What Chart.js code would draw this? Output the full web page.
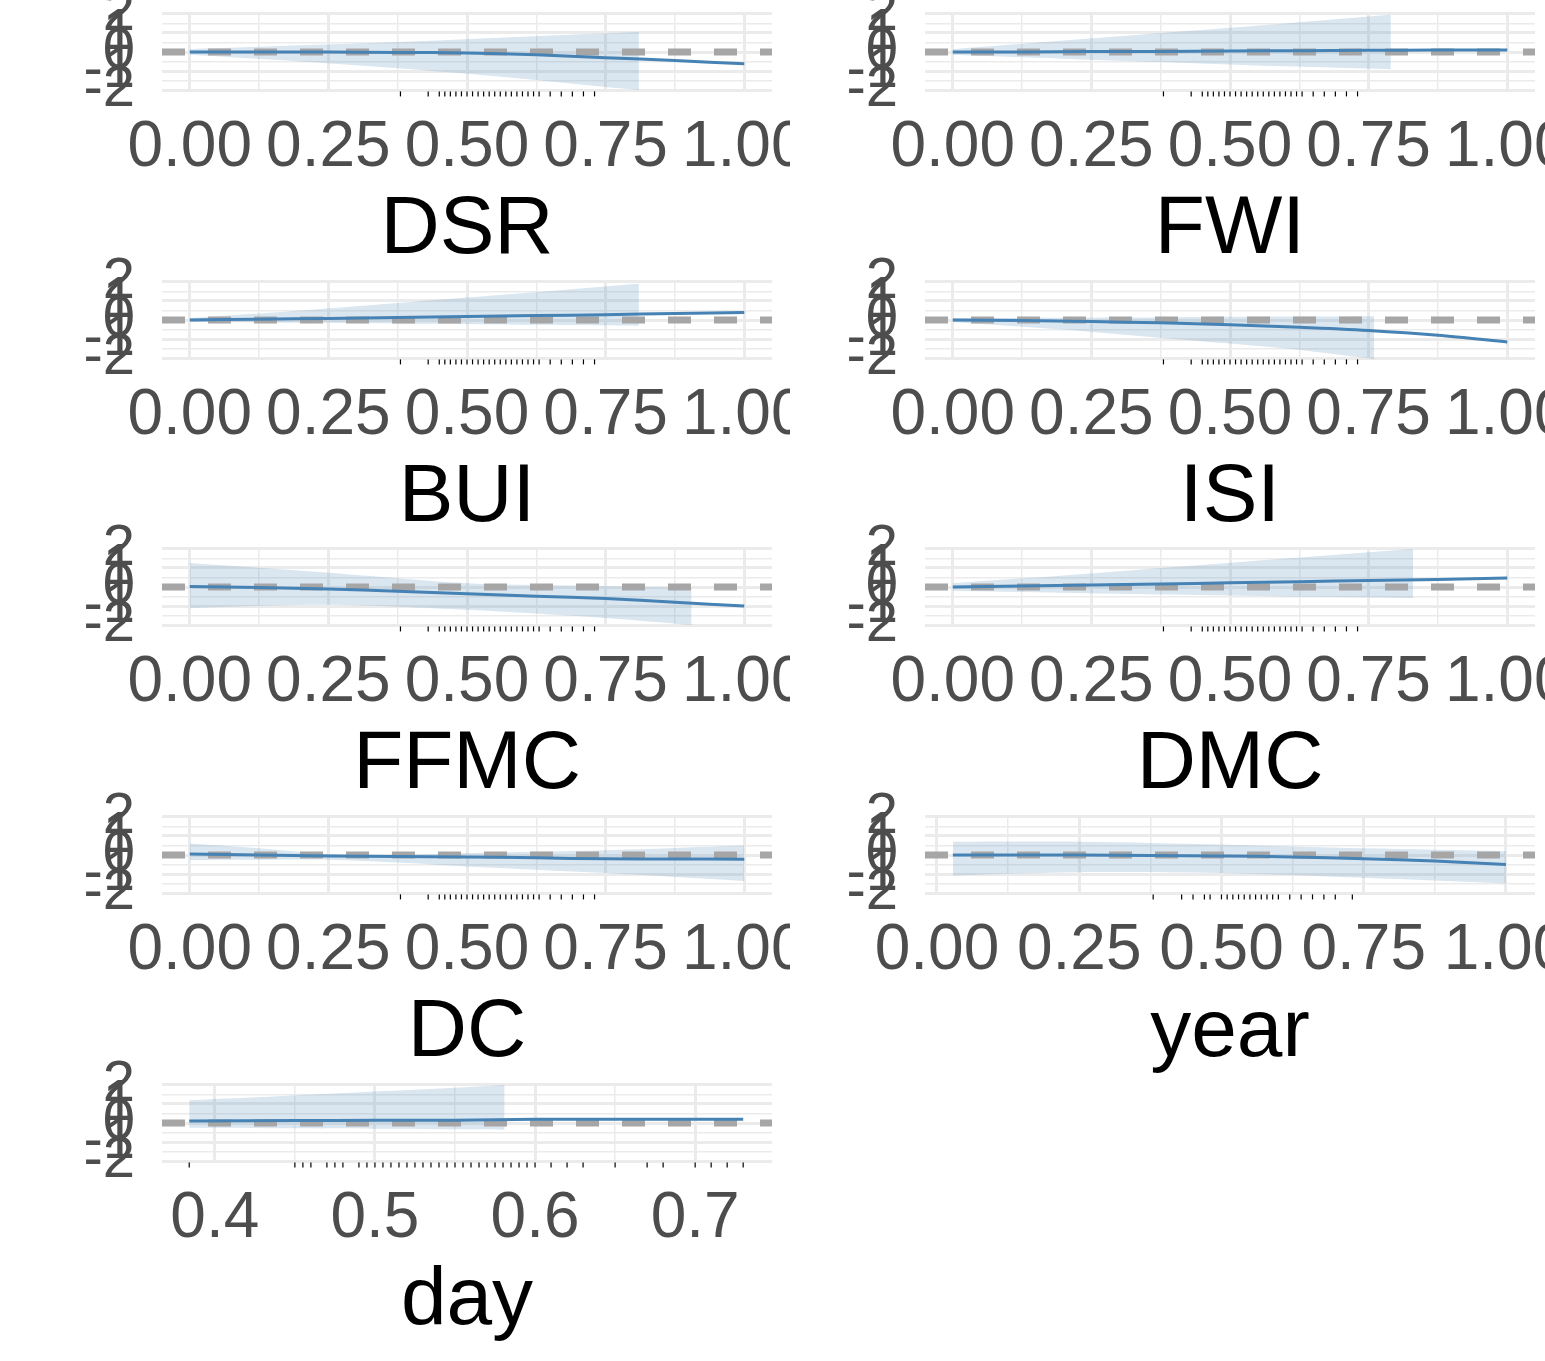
<!DOCTYPE html>
<html>
<head>
<meta charset="utf-8">
<script src="https://cdn.jsdelivr.net/npm/chart.js@4"></script>
<style>
  html, body { margin: 0; padding: 0; background: #fff; }
  body { width: 1545px; height: 1361px; overflow: hidden; position: relative; }
  .panel { position: absolute; width: 790px; height: 220px; }
  .title { position: absolute; width: 600px; text-align: center; font-family: "Liberation Sans", Arial, sans-serif;
           font-size: 82px; color: #000; line-height: 1; }
</style>
</head>
<body>
<script>
// shared x grid for the 0..1 panels
const fitX = [0, 0.125, 0.25, 0.375, 0.5, 0.625, 0.75, 0.875, 1];
const rugX = [0.38, 0.43, 0.45, 0.46, 0.47, 0.48, 0.49, 0.5, 0.51, 0.52, 0.53, 0.54, 0.55, 0.56, 0.57, 0.58, 0.59, 0.6, 0.61, 0.62, 0.63, 0.65, 0.67, 0.69, 0.71, 0.73];

const dsrFit = [0, 0, 0, -0.02, -0.05, -0.15, -0.3, -0.45, -0.62];
const dsrBandX = [0, 0.2, 0.4, 0.6, 0.81];
const dsrUpper = [0.15, 0.35, 0.55, 0.8, 1.05];
const dsrLower = [-0.15, -0.5, -0.9, -1.4, -2.0];

const fwiFit = [0, 0, 0.02, 0.03, 0.05, 0.07, 0.09, 0.1, 0.1];
const fwiBandX = [0, 0.2, 0.4, 0.6, 0.79];
const fwiUpper = [0.15, 0.6, 1.05, 1.5, 1.95];
const fwiLower = [-0.15, -0.35, -0.55, -0.75, -0.9];

const buiFit = [0, 0.04, 0.08, 0.13, 0.18, 0.23, 0.28, 0.34, 0.4];
const buiBandX = [0, 0.2, 0.4, 0.6, 0.81];
const buiUpper = [0.1, 0.5, 0.95, 1.4, 1.9];
const buiLower = [-0.1, -0.15, -0.2, -0.25, -0.3];

const isiFit = [0, -0.03, -0.08, -0.15, -0.25, -0.38, -0.55, -0.8, -1.15];
const isiBandX = [0, 0.2, 0.4, 0.6, 0.76];
const isiUpper = [0.1, 0.12, 0.15, 0.18, 0.2];
const isiLower = [-0.1, -0.5, -1.0, -1.5, -2.05];

const ffmcFit = [0.03, -0.03, -0.1, -0.22, -0.35, -0.48, -0.61, -0.8, -1.0];
const ffmcBandX = [0, 0.25, 0.5, 0.75, 0.905];
const ffmcUpper = [1.26, 0.75, 0.2, 0.05, -0.05];
const ffmcLower = [-1.1, -0.93, -1.2, -1.63, -2.0];

const dmcFit = [0, 0.05, 0.1, 0.16, 0.22, 0.28, 0.34, 0.4, 0.47];
const dmcBandX = [0, 0.2, 0.4, 0.6, 0.83];
const dmcUpper = [0.2, 0.6, 1.05, 1.5, 2.0];
const dmcLower = [-0.2, -0.3, -0.4, -0.5, -0.58];

const dcFit = [0.05, 0.0, -0.05, -0.08, -0.1, -0.15, -0.2, -0.21, -0.22];
const dcBandX = [0, 0.125, 0.25, 0.375, 0.5, 0.75, 1];
const dcUpper = [0.6, 0.35, 0.05, 0.0, 0.1, 0.25, 0.5];
const dcLower = [-0.26, -0.25, -0.25, -0.4, -0.6, -0.95, -1.37];

const yearFitX = [0.028, 0.25, 0.5, 0.625, 0.75, 0.875, 1];
const yearFit = [0, 0, -0.05, -0.1, -0.2, -0.32, -0.5];
const yearBandX = [0.028, 0.25, 0.5, 0.75, 1];
const yearUpper = [0.7, 0.7, 0.55, 0.35, 0.2];
const yearLower = [-1.07, -0.9, -0.95, -1.2, -1.5];
const yearRugX = [0.38, 0.43, 0.45, 0.47, 0.48, 0.5, 0.51, 0.52, 0.53, 0.54, 0.55, 0.56, 0.57, 0.58, 0.59, 0.6, 0.62, 0.64, 0.66, 0.68, 0.7, 0.73];

const dayFitX = [0.384, 0.45, 0.5, 0.55, 0.6, 0.65, 0.7, 0.73];
const dayFit = [0.1, 0.13, 0.14, 0.15, 0.2, 0.2, 0.2, 0.2];
const dayBandX = [0.384, 0.45, 0.5, 0.55, 0.581];
const dayUpper = [1.2, 1.45, 1.65, 1.85, 2.0];
const dayLower = [-0.25, -0.28, -0.3, -0.33, -0.35];
const dayRugX = [0.384, 0.45, 0.455, 0.46, 0.47, 0.475, 0.48, 0.49, 0.495, 0.5, 0.505, 0.51, 0.515, 0.52, 0.525, 0.53,
  0.535, 0.54, 0.545, 0.55, 0.555, 0.56, 0.565, 0.57, 0.575, 0.58, 0.585, 0.59, 0.595, 0.6, 0.61, 0.62, 0.63, 0.65,
  0.67, 0.68, 0.7, 0.71, 0.72, 0.73];

const xTicks01 = [0, 0.25, 0.5, 0.75, 1];
const xTicksDay = [0.4, 0.5, 0.6, 0.7];
const yTicks = [-2, -1, 0, 1, 2];

const panels = [
  { left: 0,   top: -28,  fx: fitX, fy: dsrFit,  bx: dsrBandX,  up: dsrUpper,  lo: dsrLower,  rug: rugX, min: -0.05, max: 1.05, ticks: xTicks01, title: "DSR" },
  { left: 763, top: -28,  fx: fitX, fy: fwiFit,  bx: fwiBandX,  up: fwiUpper,  lo: fwiLower,  rug: rugX, min: -0.05, max: 1.05, ticks: xTicks01, title: "FWI" },
  { left: 0,   top: 240,  fx: fitX, fy: buiFit,  bx: buiBandX,  up: buiUpper,  lo: buiLower,  rug: rugX, min: -0.05, max: 1.05, ticks: xTicks01, title: "BUI" },
  { left: 763, top: 240,  fx: fitX, fy: isiFit,  bx: isiBandX,  up: isiUpper,  lo: isiLower,  rug: rugX, min: -0.05, max: 1.05, ticks: xTicks01, title: "ISI" },
  { left: 0,   top: 507,  fx: fitX, fy: ffmcFit, bx: ffmcBandX, up: ffmcUpper, lo: ffmcLower, rug: rugX, min: -0.05, max: 1.05, ticks: xTicks01, title: "FFMC" },
  { left: 763, top: 507,  fx: fitX, fy: dmcFit,  bx: dmcBandX,  up: dmcUpper,  lo: dmcLower,  rug: rugX, min: -0.05, max: 1.05, ticks: xTicks01, title: "DMC" },
  { left: 0,   top: 775,  fx: fitX, fy: dcFit,   bx: dcBandX,   up: dcUpper,   lo: dcLower,   rug: rugX, min: -0.05, max: 1.05, ticks: xTicks01, title: "DC" },
  { left: 763, top: 775,  fx: yearFitX, fy: yearFit, bx: yearBandX, up: yearUpper, lo: yearLower, rug: yearRugX, min: -0.021, max: 1.051, ticks: xTicks01, title: "year" },
  { left: 0,   top: 1043, fx: dayFitX, fy: dayFit, bx: dayBandX, up: dayUpper, lo: dayLower, rug: dayRugX, min: 0.367, max: 0.748, ticks: xTicksDay, title: "day" },
];

const pts = (xs, ys) => xs.map((x, i) => ({ x: x, y: ys[i] }));
const GRID = "#ebebeb";

panels.forEach((p) => {
  const cv = document.createElement("canvas");
  const wrap = document.createElement("div");
  wrap.className = "panel";
  wrap.style.left = p.left + "px";
  wrap.style.top = p.top + "px";
  wrap.appendChild(cv);
  document.body.appendChild(wrap);

  const t = document.createElement("div");
  t.className = "title";
  t.textContent = p.title;
  t.style.left = (p.left + 162 + 305 - 300) + "px";
  t.style.top = (p.top + 40 + 80 + 92) + "px";
  document.body.appendChild(t);

  // major ticks plus one minor between each pair
  const step = p.ticks[1] - p.ticks[0];
  const xGrid = [];
  for (let v = p.ticks[0] - step / 2; v <= p.max + 1e-9; v += step / 2) {
    if (v >= p.min - 1e-9) xGrid.push(Math.round(v * 1000) / 1000);
  }
  const yGrid = [-2, -1.5, -1, -0.5, 0, 0.5, 1, 1.5, 2];
  const isMajor = (v, list) => list.some((m) => Math.abs(m - v) < 1e-6);

  new Chart(cv, {
    type: "line",
    data: {
      datasets: [
        { data: pts(p.fx, p.fy), borderColor: "#4682b4", borderWidth: 3, pointRadius: 0, fill: false, tension: 0.3, order: 0 },
        { data: [{ x: p.min, y: 0 }, { x: p.max, y: 0 }], borderColor: "#a6a6a6", borderWidth: 7, borderDash: [23, 23], pointRadius: 0, fill: false, order: 1 },
        { data: pts(p.bx, p.up), borderWidth: 0, pointRadius: 0, fill: "+1", backgroundColor: "rgba(70,130,180,0.2)", tension: 0.3, order: 2 },
        { data: pts(p.bx, p.lo), borderWidth: 0, pointRadius: 0, fill: false, tension: 0.3, order: 3 },
        { data: p.rug.map((x) => ({ x: x, y: -2.2 })), showLine: false, pointStyle: "line", rotation: 90, pointRadius: 2.5,
          borderColor: "#000", borderWidth: 1.2, order: 4 },
      ],
    },
    options: {
      responsive: true,
      maintainAspectRatio: false,
      animation: false,
      clip: false,
      layout: { padding: { top: 40, right: 18, bottom: 0, left: 0 } },
      plugins: { legend: { display: false }, tooltip: { enabled: false } },
      scales: {
        x: {
          type: "linear",
          min: p.min,
          max: p.max,
          afterFit: (s) => { s.height = 100; s.paddingLeft = 0; s.paddingRight = 0; },
          afterBuildTicks: (s) => { s.ticks = xGrid.map((v) => ({ value: v })); },
          border: { display: false },
          grid: { color: GRID, drawTicks: false, lineWidth: (c) => (isMajor(c.tick.value, p.ticks) ? 3 : 1.5) },
          ticks: {
            autoSkip: false, maxRotation: 0, padding: 18, color: "#4d4d4d",
            font: { family: "Liberation Sans, Arial", size: 64 },
            callback: (v) => (isMajor(v, p.ticks) ? (p.ticks === xTicksDay ? v.toFixed(1) : v.toFixed(2)) : ""),
          },
        },
        y: {
          type: "linear",
          min: -2.1,
          max: 2.1,
          afterFit: (s) => { s.width = 162; s.paddingTop = 0; s.paddingBottom = 0; },
          afterBuildTicks: (s) => { s.ticks = yGrid.map((v) => ({ value: v })); },
          border: { display: false },
          grid: { color: GRID, drawTicks: false, lineWidth: (c) => (isMajor(c.tick.value, yTicks) ? 3 : 1.5) },
          ticks: {
            autoSkip: false, padding: 27, color: "#4d4d4d",
            font: { family: "Liberation Sans, Arial", size: 58 },
            callback: (v) => (isMajor(v, yTicks) ? String(v) : ""),
          },
        },
      },
    },
  });
});
</script>
</body>
</html>
